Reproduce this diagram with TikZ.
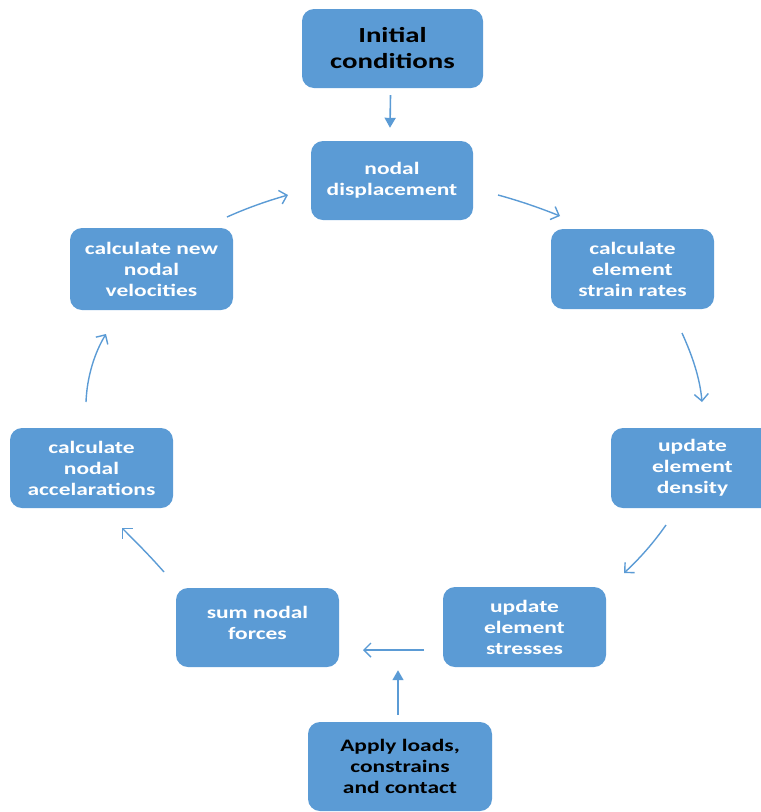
\documentclass[tikz,border=0pt]{standalone}
\usepackage{fontspec}
\setmainfont{Carlito}[FakeStretch=1.34]
\usetikzlibrary{arrows.meta}
\definecolor{boxblue}{HTML}{5B9BD5}
\definecolor{arrblue}{HTML}{5B9BD5}
\tikzset{
  box/.style={draw=none, fill=boxblue, rounded corners=12pt, minimum width=163pt, minimum height=80pt,
    inner sep=0pt, align=center, text=white, font=\fontsize{17.5}{21}\selectfont\bfseries},
  darkbox/.style={box, text=black},
  flow/.style={draw=arrblue, line width=1.4pt, -{Straight Barb[length=7pt,width=14pt,line width=1.4pt]}},
  feed/.style={draw=arrblue, line width=1.6pt, -{Triangle[length=10pt,width=11pt]}}
}
\begin{document}
\begin{tikzpicture}[x=1pt,y=-1pt]
\useasboundingbox (0,0) rectangle (761,812);
\clip (0,0) rectangle (761,812);
\node[darkbox, minimum width=181pt, minimum height=79pt, font=\fontsize{21.5}{26}\selectfont\bfseries] (init) at (392.5,48.5) {Initial\\conditions};
\node[box, minimum width=162pt, minimum height=79pt] (disp) at (392,180.5) {nodal\\displacement};
\node[box] (strain) at (632.5,269) {calculate\\element\\strain rates};
\node[box] (dens) at (692.5,468) {update\\element\\density};
\node[box] (stress) at (524.5,627) {update\\element\\stresses};
\node[box, minimum height=79pt] (sum) at (257.5,627.5) {};
\node[text=white, font=\fontsize{17.5}{21}\selectfont\bfseries, align=center, inner sep=0pt] (sumtext) at (257.5,623) {sum nodal\\forces};
\node[box] (accel) at (91.5,468) {calculate\\nodal\\accelarations};
\node[box, minimum height=82pt] (vel) at (151.5,269) {calculate new\\nodal\\velocities};
\node[darkbox, minimum width=184pt, minimum height=89pt] (apply) at (400,766.5) {Apply loads,\\constrains\\and contact};

% arrow ends
\coordinate (a1s) at (498,195);  \coordinate (a1e) at (560,216);
\coordinate (a2s) at (682,333);  \coordinate (a2e) at (702,402);
\coordinate (a3s) at (666,525);  \coordinate (a3e) at (624,573);
\coordinate (a4s) at (424,650);  \coordinate (a4e) at (363,650);
\coordinate (a5s) at (164,572);  \coordinate (a5e) at (122,528);
\coordinate (a6s) at (86,402);   \coordinate (a6e) at (106,334);
\coordinate (a7s) at (227,217);  \coordinate (a7e) at (288,195);

\draw[feed] ([xshift=-2pt,yshift=-7pt]init.south) -- ([xshift=-2pt,yshift=13pt]disp.north);
\draw[flow] (a1s) .. controls (520,201) and (540,208) .. (a1e);
\draw[flow] (a2s) .. controls (692,355) and (700,378) .. (a2e);
\draw[flow] (a3s) .. controls (652,545) and (638,560) .. (a3e);
\draw[flow] (a4s) -- (a4e);
\draw[feed] ([xshift=-2pt,yshift=7pt]apply.north) -- ([xshift=-126.5pt,yshift=-3pt]stress.south);
\draw[flow] (a5s) .. controls (150,556) and (136,542) .. (a5e);
\draw[flow] (a6s) .. controls (87,376) and (95,352) .. (a6e);
\draw[flow] (a7s) .. controls (247,208) and (267,201) .. (a7e);
\end{tikzpicture}
\end{document}
